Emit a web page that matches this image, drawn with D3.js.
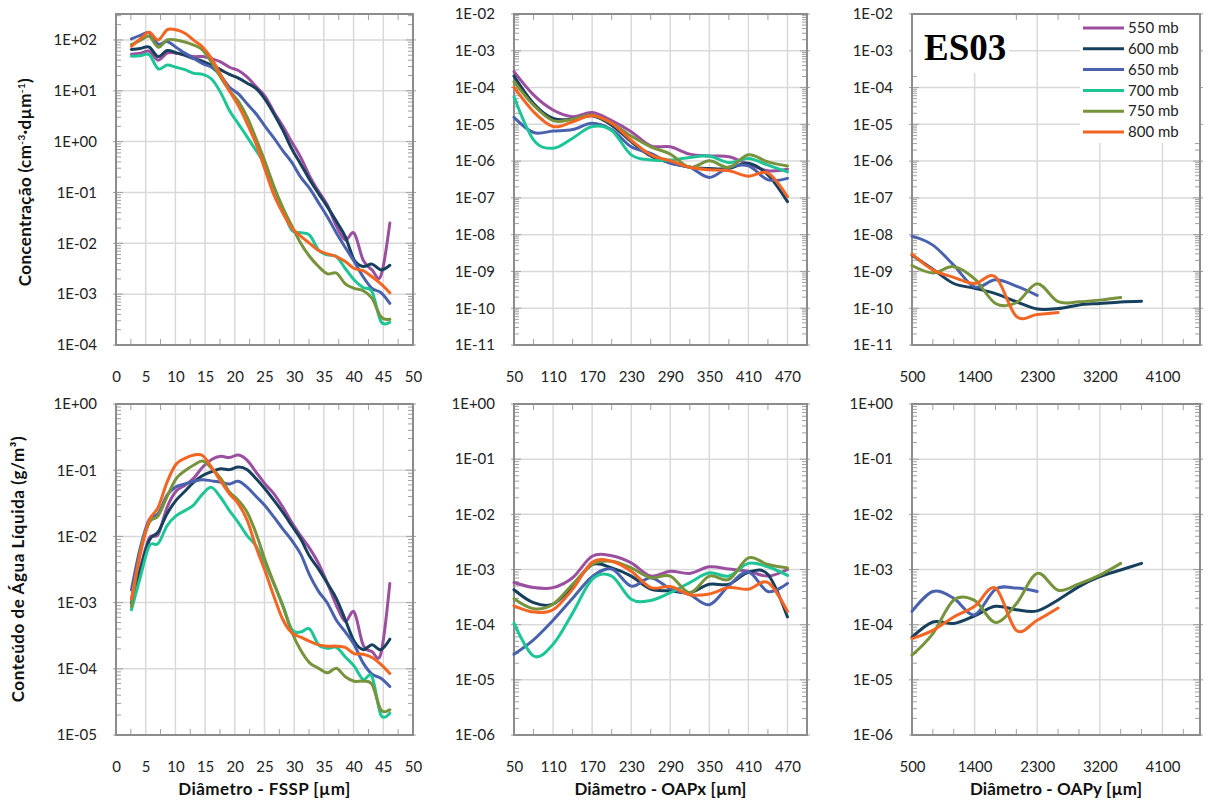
<!DOCTYPE html>
<html>
<head>
<meta charset="utf-8">
<script src="https://cdn.jsdelivr.net/npm/d3@7/dist/d3.min.js"></script>
<style>
  html, body { margin: 0; padding: 0; background: #ffffff; }
  svg { display: block; }
</style>
</head>
<body>
<svg id="chart" width="1208" height="803"></svg>
<script>
// ---------------- DATA ----------------
const seriesNames = ["550 mb", "600 mb", "650 mb", "700 mb", "750 mb", "800 mb"];
const seriesColors = ["#9B4F9F", "#17405E", "#4A62AE", "#1DC597", "#77933C", "#F26522"];

const fsspTicks = [0, 5, 10, 15, 20, 25, 30, 35, 40, 45, 50];
const oapxTicks = [50, 110, 170, 230, 290, 350, 410, 470];
const oapyTicks = [500, 1400, 2300, 3200, 4100];

const fsspDiameter = [2.6, 4.1, 5.6, 7.1, 8.6, 10.1, 11.6, 13.1, 14.6, 16.1, 17.6, 19.1, 20.6, 22.1, 23.6,
  25.1, 26.6, 28.1, 29.6, 31.1, 32.6, 34.1, 35.6, 37.1, 38.6, 40.1, 41.6, 43.1, 44.6, 46.1];

const fsspConc550 = [52.5, 55, 60, 40, 55, 55, 51, 47, 47, 43, 37, 29, 25, 18.6, 12, 7.8, 3.8, 2.0, 0.98, 0.49,
  0.21, 0.105, 0.056, 0.022, 0.0117, 0.0158, 0.0047, 0.003, 0.0023, 0.025];
const fsspConc600 = [65, 68, 72, 47, 62, 56, 50, 43, 38, 32, 26, 21, 17.8, 14.1, 11, 6.8, 3.5, 1.66, 0.72, 0.36,
  0.178, 0.095, 0.052, 0.027, 0.0135, 0.0047, 0.0035, 0.0039, 0.003, 0.0037];
const fsspConc650 = [105, 123, 138, 83, 93, 72, 55, 43, 34, 29, 20, 11.7, 8.7, 5.5, 3.5, 2.0, 1.17, 0.66, 0.39, 0.2,
  0.12, 0.063, 0.033, 0.016, 0.0083, 0.0044, 0.0022, 0.0013, 0.00107, 0.00066];
const fsspConc700 = [48, 49, 51, 27, 32, 29, 26, 22, 21, 17, 9.3, 4.1, 2.24, 1.23, 0.66, 0.355, 0.126, 0.045, 0.018, 0.0162,
  0.0145, 0.0074, 0.0059, 0.0055, 0.0032, 0.0019, 0.00135, 0.00112, 0.00029, 0.00028];
const fsspConc750 = [81, 98, 117, 72, 100, 100, 91, 79, 63, 36, 18.6, 10, 6.2, 3.0, 1.12, 0.4, 0.13, 0.05, 0.022, 0.01,
  0.0055, 0.0035, 0.0025, 0.0026, 0.0016, 0.0013, 0.00117, 0.00083, 0.00036, 0.00032];
const fsspConc800 = [75, 105, 141, 100, 158, 158, 135, 98, 72, 43, 21, 10, 5.1, 2.24, 0.89, 0.28, 0.089, 0.039, 0.02, 0.0138,
  0.01, 0.0072, 0.0062, 0.0055, 0.0044, 0.0032, 0.0029, 0.0022, 0.0016, 0.00107];

const fsspLwc550 = [0.00112, 0.0034, 0.0095, 0.0107, 0.0275, 0.048, 0.059, 0.076, 0.112, 0.145, 0.162, 0.155, 0.17, 0.141, 0.093,
  0.062, 0.044, 0.0275, 0.0162, 0.0102, 0.0066, 0.0039, 0.00195, 0.00091, 0.00052, 0.00072, 0.00023, 0.000182, 0.00017, 0.00195];
const fsspLwc600 = [0.00098, 0.0031, 0.0087, 0.0117, 0.022, 0.035, 0.048, 0.066, 0.083, 0.095, 0.105, 0.102, 0.112, 0.102, 0.074,
  0.052, 0.035, 0.023, 0.0145, 0.0091, 0.005, 0.0032, 0.00195, 0.00115, 0.00055, 0.00026, 0.000195, 0.00023, 0.000195, 0.00028];
const fsspLwc650 = [0.00155, 0.0068, 0.018, 0.022, 0.042, 0.056, 0.062, 0.068, 0.072, 0.069, 0.066, 0.062, 0.068, 0.055, 0.04,
  0.029, 0.0195, 0.0129, 0.0087, 0.0054, 0.0026, 0.00148, 0.00098, 0.00054, 0.00036, 0.00023, 0.000123, 0.000083, 0.000072, 0.000054];
const fsspLwc700 = [0.00078, 0.00245, 0.0072, 0.0078, 0.0145, 0.0204, 0.0245, 0.03, 0.044, 0.055, 0.039, 0.0245, 0.0162, 0.0102, 0.0071,
  0.0038, 0.0019, 0.00091, 0.00039, 0.00036, 0.0004, 0.00023, 0.000204, 0.00021, 0.000151, 0.00011, 0.000069, 0.000076, 0.00002, 0.0000214];
const fsspLwc750 = [0.00087, 0.006, 0.0162, 0.0204, 0.04, 0.074, 0.098, 0.12, 0.138, 0.107, 0.076, 0.047, 0.035, 0.023, 0.011,
  0.0044, 0.00195, 0.00087, 0.00036, 0.00019, 0.000123, 0.000102, 0.000087, 0.000102, 0.000076, 0.000065, 0.000065, 0.000058, 0.000024, 0.000024];
const fsspLwc800 = [0.00115, 0.0055, 0.0174, 0.0275, 0.066, 0.123, 0.151, 0.17, 0.166, 0.11, 0.069, 0.044, 0.031, 0.0174, 0.0068,
  0.003, 0.00123, 0.00055, 0.00035, 0.0003, 0.00026, 0.00023, 0.00022, 0.00022, 0.00021, 0.00017, 0.000166, 0.000148, 0.000117, 0.000085];

const oapxDiameter = [50, 80, 110, 140, 170, 200, 230, 260, 290, 320, 350, 380, 410, 440, 470];

const oapxConc550 = [2.7e-4, 6.3e-5, 2.45e-5, 1.62e-5, 2.1e-5, 1.26e-5, 6.3e-6, 2.6e-6, 2.45e-6, 1.55e-6, 1.38e-6, 1.32e-6, 8.3e-7, 5.5e-7, 6.0e-7];
const oapxConc600 = [2.05e-4, 3.7e-5, 1.45e-5, 1.38e-5, 1.7e-5, 9.5e-6, 3.4e-6, 1.38e-6, 9.1e-7, 6.8e-7, 6.3e-7, 6.3e-7, 8.7e-7, 4.2e-7, 7.9e-8];
const oapxConc650 = [1.55e-5, 6.0e-6, 6.6e-6, 7.2e-6, 1.07e-5, 7.2e-6, 2.45e-6, 1.62e-6, 8.7e-7, 6.8e-7, 3.6e-7, 6.8e-7, 7.4e-7, 3.1e-7, 3.4e-7];
const oapxConc700 = [5.6e-5, 3.8e-6, 2.24e-6, 4.2e-6, 8.7e-6, 6.8e-6, 1.48e-6, 1.07e-6, 1.07e-6, 1.26e-6, 1.38e-6, 9.1e-7, 1.17e-6, 7.8e-7, 5.1e-7];
const oapxConc750 = [1.45e-4, 3.3e-5, 1.26e-5, 1.38e-5, 1.78e-5, 1.07e-5, 4.8e-6, 2.45e-6, 1.55e-6, 6.8e-7, 1.02e-6, 6.8e-7, 1.48e-6, 9.5e-7, 7.4e-7];
const oapxConc800 = [1.02e-4, 2.2e-5, 8.7e-6, 1.17e-5, 1.7e-5, 1.07e-5, 3.7e-6, 1.48e-6, 1.02e-6, 6.8e-7, 5.8e-7, 5.5e-7, 3.9e-7, 4.7e-7, 1.07e-7];

const oapxLwc550 = [5.8e-4, 4.7e-4, 4.7e-4, 7.1e-4, 1.74e-3, 1.78e-3, 1.32e-3, 7.6e-4, 9.3e-4, 8.5e-4, 1.12e-3, 1.02e-3, 9.3e-4, 7.6e-4, 1.0e-3];
const oapxLwc600 = [4.3e-4, 2.5e-4, 2.35e-4, 5.0e-4, 1.23e-3, 1.07e-3, 7.6e-4, 4.4e-4, 4.1e-4, 3.8e-4, 5.4e-4, 5.4e-4, 8.9e-4, 8.1e-4, 1.38e-4];
const oapxLwc650 = [2.9e-5, 5.3e-5, 1.2e-4, 3.0e-4, 7.4e-4, 1.02e-3, 5.0e-4, 7.1e-4, 4.5e-4, 3.5e-4, 2.3e-4, 5.1e-4, 9.0e-4, 4.0e-4, 5.6e-4];
const oapxLwc700 = [1.07e-4, 2.7e-5, 4.4e-5, 1.62e-4, 6.6e-4, 7.6e-4, 2.9e-4, 2.75e-4, 3.8e-4, 5.8e-4, 8.7e-4, 7.6e-4, 1.29e-3, 1.12e-3, 7.8e-4];
const oapxLwc750 = [2.95e-4, 1.95e-4, 2.35e-4, 5.4e-4, 1.23e-3, 1.41e-3, 1.07e-3, 7.1e-4, 7.6e-4, 3.8e-4, 7.6e-4, 6.6e-4, 1.62e-3, 1.23e-3, 1.07e-3];
const oapxLwc800 = [2.2e-4, 1.7e-4, 1.86e-4, 4.4e-4, 1.35e-3, 1.41e-3, 9.3e-4, 4.7e-4, 4.9e-4, 3.5e-4, 3.6e-4, 4.7e-4, 4.4e-4, 5.8e-4, 1.74e-4];

const oapyDiameter = [500, 800, 1100, 1400, 1700, 2000, 2300, 2600, 2900, 3200, 3500, 3800];

const oapyConc550 = [];
const oapyConc600 = [2.8e-9, 1.15e-9, 4.7e-10, 3.5e-10, 2.5e-10, 1.5e-10, 9.5e-11, 9.8e-11, 1.23e-10, 1.35e-10, 1.48e-10, 1.55e-10];
const oapyConc650 = [9.1e-9, 5.2e-9, 1.48e-9, 3.8e-10, 5.9e-10, 4.0e-10, 2.24e-10];
const oapyConc700 = [];
const oapyConc750 = [1.45e-9, 9.1e-10, 1.35e-9, 6.3e-10, 1.35e-10, 1.41e-10, 4.6e-10, 1.5e-10, 1.5e-10, 1.66e-10, 1.95e-10];
const oapyConc800 = [2.95e-9, 1.1e-9, 6.9e-10, 4.7e-10, 7.1e-10, 6.0e-11, 6.8e-11, 7.6e-11];

const oapyLwc550 = [];
const oapyLwc600 = [5.9e-5, 1.12e-4, 1.05e-4, 1.45e-4, 2.15e-4, 1.86e-4, 1.78e-4, 2.8e-4, 4.9e-4, 7.4e-4, 9.8e-4, 1.29e-3];
const oapyLwc650 = [1.74e-4, 4.0e-4, 3.0e-4, 1.51e-4, 4.4e-4, 4.6e-4, 4.0e-4];
const oapyLwc700 = [];
const oapyLwc750 = [2.8e-5, 6.9e-5, 2.8e-4, 2.75e-4, 1.1e-4, 2.4e-4, 8.5e-4, 4.2e-4, 5.5e-4, 7.9e-4, 1.29e-3];
const oapyLwc800 = [5.6e-5, 7.9e-5, 1.38e-4, 2.15e-4, 4.6e-4, 7.9e-5, 1.2e-4, 2.0e-4];

// ---------------- LAYOUT ----------------
const svg = d3.select("#chart");
svg.append("rect").attr("width", 1208).attr("height", 803).attr("fill", "#fff");

const FONT = "Lato, 'Open Sans', 'DejaVu Sans', sans-serif";
const GRID = "#d9d9d9", FRAME = "#8c8c8c", TICK = "#a0a0a0", TEXT = "#222";

const panels = [
  { l: 116, r: 413, t: 14, b: 345, xd: [0, 50], xt: fsspTicks, minor: 2.5, yd: [1e-4, Math.pow(10, 2.51)],
    xs: fsspDiameter, ys: [fsspConc550, fsspConc600, fsspConc650, fsspConc700, fsspConc750, fsspConc800] },
  { l: 514, r: 807, t: 14, b: 345, xd: [50, 500], xt: oapxTicks, minor: 30, yd: [1e-11, 1e-2],
    xs: oapxDiameter, ys: [oapxConc550, oapxConc600, oapxConc650, oapxConc700, oapxConc750, oapxConc800] },
  { l: 912, r: 1200, t: 14, b: 345, xd: [500, 4640], xt: oapyTicks, minor: 300, yd: [1e-11, 1e-2],
    xs: oapyDiameter, ys: [oapyConc550, oapyConc600, oapyConc650, oapyConc700, oapyConc750, oapyConc800], legend: true },
  { l: 116, r: 413, t: 404, b: 735, xd: [0, 50], xt: fsspTicks, minor: 2.5, yd: [1e-5, 1],
    xs: fsspDiameter, ys: [fsspLwc550, fsspLwc600, fsspLwc650, fsspLwc700, fsspLwc750, fsspLwc800],
    xtitle: "Diâmetro - FSSP [µm]" },
  { l: 514, r: 807, t: 404, b: 735, xd: [50, 500], xt: oapxTicks, minor: 30, yd: [1e-6, 1],
    xs: oapxDiameter, ys: [oapxLwc550, oapxLwc600, oapxLwc650, oapxLwc700, oapxLwc750, oapxLwc800],
    xtitle: "Diâmetro - OAPx [µm]" },
  { l: 912, r: 1200, t: 404, b: 735, xd: [500, 4640], xt: oapyTicks, minor: 300, yd: [1e-6, 1],
    xs: oapyDiameter, ys: [oapyLwc550, oapyLwc600, oapyLwc650, oapyLwc700, oapyLwc750, oapyLwc800],
    xtitle: "Diâmetro - OAPy [µm]" }
];

function fmtE(v) {
  const e = Math.round(Math.log10(v));
  return "1E" + (e >= 0 ? "+" : "-") + String(Math.abs(e)).padStart(2, "0");
}

// spread a title's letters so that it spans the target width
function fitWidth(sel, target) {
  const len = sel.node().getComputedTextLength();
  const n = sel.text().length;
  if (n > 1) sel.attr("letter-spacing", ((target - len) / (n - 1)).toFixed(2));
}

panels.forEach(p => {
  const x = d3.scaleLinear().domain(p.xd).range([p.l, p.r]);
  const y = d3.scaleLog().domain(p.yd).range([p.b, p.t]);
  const g = svg.append("g");

  const lo = Math.ceil(Math.log10(p.yd[0]) - 1e-9), hi = Math.floor(Math.log10(p.yd[1]) + 1e-9);
  const decades = d3.range(lo, hi + 1).map(e => Math.pow(10, e));

  // gridlines
  g.append("g").selectAll("line").data(decades.filter(v => y(v) > p.t + 1 && y(v) < p.b - 1)).join("line")
    .attr("x1", p.l).attr("x2", p.r).attr("y1", d => y(d)).attr("y2", d => y(d))
    .attr("stroke", GRID).attr("stroke-width", 1.5);
  g.append("g").selectAll("line").data(p.xt.filter(v => x(v) > p.l + 1 && x(v) < p.r - 1)).join("line")
    .attr("x1", d => x(d)).attr("x2", d => x(d)).attr("y1", p.t).attr("y2", p.b)
    .attr("stroke", GRID).attr("stroke-width", 1.5);

  // minor y ticks (log)
  const minorY = [];
  for (let e = lo - 1; e <= hi + 1; e++) for (let m = 2; m <= 9; m++) {
    const v = m * Math.pow(10, e);
    if (v > p.yd[0] && v < p.yd[1]) minorY.push(v);
  }
  const ticksG = g.append("g").attr("stroke", TICK).attr("stroke-width", 1);
  minorY.forEach(v => {
    ticksG.append("line").attr("x1", p.l).attr("x2", p.l + 5).attr("y1", y(v)).attr("y2", y(v));
    ticksG.append("line").attr("x1", p.r - 5).attr("x2", p.r).attr("y1", y(v)).attr("y2", y(v));
  });
  decades.forEach(v => {
    ticksG.append("line").attr("x1", p.l - 3).attr("x2", p.l + 7).attr("y1", y(v)).attr("y2", y(v));
    ticksG.append("line").attr("x1", p.r - 7).attr("x2", p.r + 3).attr("y1", y(v)).attr("y2", y(v));
  });
  // minor x ticks
  const minorX = d3.range(p.xd[0] + p.minor, p.xd[1], p.minor)
    .filter(v => !p.xt.some(t => Math.abs(t - v) < 1e-6));
  minorX.forEach(v => {
    ticksG.append("line").attr("x1", x(v)).attr("x2", x(v)).attr("y1", p.b - 6).attr("y2", p.b);
    ticksG.append("line").attr("x1", x(v)).attr("x2", x(v)).attr("y1", p.t).attr("y2", p.t + 6);
  });

  // legend and title boxes
  if (p.legend) {
    g.append("rect").attr("x", p.l + 1).attr("y", p.t + 1).attr("width", 96).attr("height", 58).attr("fill", "#fff");
    g.append("rect").attr("x", 1080).attr("y", p.t + 1).attr("width", p.r - 1081).attr("height", 128).attr("fill", "#fff");
    g.append("text").attr("x", 924).attr("y", 60).text("ES03")
      .attr("font-family", "'Liberation Serif', 'DejaVu Serif', serif").attr("font-weight", "bold")
      .attr("font-size", 37).attr("fill", "#000");
    const lg = g.append("g");
    seriesNames.forEach((n, i) => {
      const yy = 28 + i * 20.8;
      lg.append("line").attr("x1", 1083).attr("x2", 1124).attr("y1", yy).attr("y2", yy)
        .attr("stroke", seriesColors[i]).attr("stroke-width", 3);
      lg.append("text").attr("x", 1128).attr("y", yy).attr("dy", "0.35em").text(n)
        .attr("font-family", FONT).attr("font-size", 15).attr("fill", TEXT);
    });
  }

  // frame
  g.append("rect").attr("x", p.l).attr("y", p.t).attr("width", p.r - p.l).attr("height", p.b - p.t)
    .attr("fill", "none").attr("stroke", FRAME).attr("stroke-width", 2);

  // axes labels
  const ax = g.append("g").attr("transform", `translate(0,${p.b})`)
    .call(d3.axisBottom(x).tickValues(p.xt).tickSize(0).tickPadding(26).tickFormat(d3.format("d")));
  ax.select(".domain").remove();
  ax.selectAll("text").attr("font-family", FONT).attr("font-size", 15).attr("fill", TEXT);
  const ay = g.append("g").attr("transform", `translate(${p.l},0)`)
    .call(d3.axisLeft(y).tickValues(decades).tickSize(0).tickPadding(19).tickFormat(fmtE));
  ay.select(".domain").remove();
  ay.selectAll("text").attr("font-family", FONT).attr("font-size", 15).attr("fill", TEXT);

  // series lines
  const line = d3.line().x(d => x(d[0])).y(d => y(d[1])).curve(d3.curveCardinal.tension(0));
  p.ys.forEach((vals, i) => {
    if (!vals.length) return;
    const pts = vals.map((v, k) => [p.xs[k], v]);
    g.append("path").attr("d", line(pts)).attr("fill", "none")
      .attr("stroke", seriesColors[i]).attr("stroke-width", 3).attr("stroke-linejoin", "round")
      .attr("stroke-linecap", "round");
  });

  if (p.xtitle) {
    const t = g.append("text").attr("x", (p.l + p.r) / 2).attr("y", 795).attr("text-anchor", "middle")
      .attr("font-family", FONT).attr("font-weight", "bold").attr("font-size", 17).attr("fill", "#111")
      .text(p.xtitle);
    fitWidth(t, 172);
  }
});

// y titles
const yt1 = svg.append("text").attr("transform", "translate(31,182) rotate(-90)").attr("text-anchor", "middle")
  .attr("font-family", FONT).attr("font-weight", "bold").attr("font-size", 17).attr("fill", "#111");
yt1.append("tspan").text("Concentração (cm");
yt1.append("tspan").attr("baseline-shift", "super").attr("font-size", 10).text("-3");
yt1.append("tspan").text("·dµm");
yt1.append("tspan").attr("baseline-shift", "super").attr("font-size", 10).text("-1");
yt1.append("tspan").text(")");
fitWidth(yt1, 208);

const yt2 = svg.append("text").attr("transform", "translate(24,569) rotate(-90)").attr("text-anchor", "middle")
  .attr("font-family", FONT).attr("font-weight", "bold").attr("font-size", 17).attr("fill", "#111")
  .text("Conteúdo de Água Líquida (g/m³)");
fitWidth(yt2, 266);
</script>
</body>
</html>
